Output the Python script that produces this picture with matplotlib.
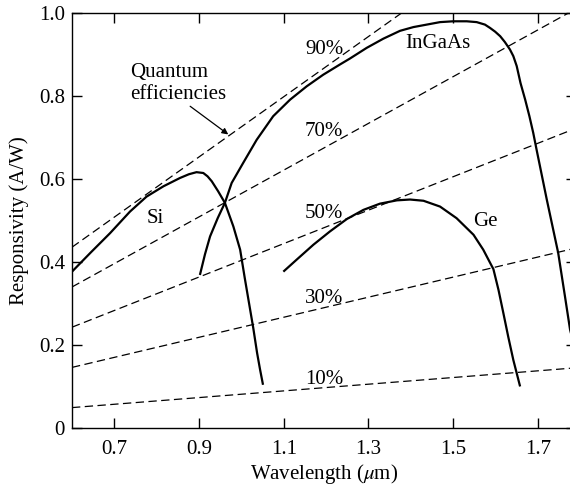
import matplotlib
matplotlib.use("Agg")
import matplotlib.pyplot as plt

# ---- data ----
si_x = [0.600, 0.645, 0.690, 0.737, 0.776, 0.816, 0.855, 0.876, 0.894, 0.910, 0.920,
        0.930, 0.945, 0.961, 0.981, 0.997, 1.008, 1.018, 1.028, 1.037, 1.044, 1.051]
si_y = [0.376, 0.423, 0.469, 0.521, 0.557, 0.582, 0.602, 0.611, 0.616, 0.614, 0.606,
        0.594, 0.570, 0.542, 0.485, 0.429, 0.360, 0.300, 0.240, 0.180, 0.140, 0.103]

ingaas_x = [0.902, 0.914, 0.926, 0.944, 0.961, 0.977, 1.004, 1.036, 1.075, 1.115,
            1.154, 1.193, 1.233, 1.256, 1.296, 1.335, 1.3745, 1.406, 1.4375, 1.469,
            1.500, 1.532, 1.5555, 1.575, 1.587, 1.599, 1.611, 1.622, 1.634, 1.642,
            1.650, 1.659, 1.670, 1.680, 1.689, 1.697, 1.705, 1.713, 1.721, 1.748,
            1.764, 1.776, 1.790]
ingaas_y = [0.368, 0.418, 0.461, 0.505, 0.542, 0.590, 0.638, 0.694, 0.751, 0.791,
            0.823, 0.851, 0.876, 0.890, 0.916, 0.938, 0.957, 0.966, 0.972, 0.978,
            0.980, 0.980, 0.978, 0.972, 0.964, 0.955, 0.944, 0.930, 0.912, 0.896,
            0.872, 0.831, 0.791, 0.751, 0.711, 0.670, 0.630, 0.590, 0.550, 0.421,
            0.316, 0.236, 0.180]

ge_x = [1.099, 1.1305, 1.170, 1.209, 1.249, 1.288, 1.327, 1.367, 1.398, 1.430,
        1.469, 1.508, 1.548, 1.571, 1.595, 1.607, 1.6185, 1.630, 1.642, 1.658]
ge_y = [0.376, 0.405, 0.441, 0.473, 0.503, 0.525, 0.540, 0.548, 0.550, 0.547,
        0.533, 0.505, 0.465, 0.429, 0.382, 0.332, 0.276, 0.219, 0.163, 0.099]

# quantum-efficiency lines: end points read at the left and right edges
qe_labels = ["90%", "70%", "50%", "30%", "10%"]
qe_x = [0.60, 1.79]
qe_y_left = [0.435, 0.339, 0.242, 0.145, 0.048]
qe_y_right = [1.299, 1.010, 0.722, 0.433, 0.144]
qe_label_y = [0.912, 0.715, 0.517, 0.312, 0.117]

x_ticks = [0.7, 0.9, 1.1, 1.3, 1.5, 1.7]
y_ticks = [0, 0.2, 0.4, 0.6, 0.8, 1.0]
y_ticklabels = ["0", "0.2", "0.4", "0.6", "0.8", "1.0"]

# ---- style ----
plt.rcParams["font.family"] = ["Liberation Serif", "DejaVu Serif"]
plt.rcParams["mathtext.fontset"] = "stix"
plt.rcParams["lines.scale_dashes"] = False
FS = 15

fig = plt.figure(figsize=(5.7, 4.86), dpi=100)
ax = fig.add_axes([72 / 570, (486 - 427.5) / 486, (576 - 72) / 570, (427.5 - 13) / 486])

for yl, yr in zip(qe_y_left, qe_y_right):
    ax.plot(qe_x, [yl, yr], color="black", lw=0.9, linestyle=(0, (6, 3.2)))

for xs, ys in [(si_x, si_y), (ingaas_x, ingaas_y), (ge_x, ge_y)]:
    ax.plot(xs, ys, color="black", lw=1.6, solid_capstyle="butt",
            solid_joinstyle="round")

for lab, ly in zip(qe_labels, qe_label_y):
    ax.text(1.195, ly, lab, fontsize=FS, ha="center", va="center")

ax.text(0.797, 0.505, "Si", fontsize=FS, ha="center", va="center")
ax.text(1.463, 0.926, "InGaAs", fontsize=FS, ha="center", va="center")
ax.text(1.575, 0.498, "Ge", fontsize=FS, ha="center", va="center")
ax.text(0.737, 0.830, "Quantum\nefficiencies", fontsize=FS, ha="left", va="center",
        linespacing=1.25)
ax.annotate("", xy=(0.969, 0.707), xytext=(0.879, 0.775),
            arrowprops=dict(arrowstyle="-|>", lw=0.9, color="black", mutation_scale=9,
                            shrinkA=0, shrinkB=0))

ax.set_xlim(qe_x[0], qe_x[1])
ax.set_ylim(0, 1.0)
ax.set_xticks(x_ticks)
ax.set_xticklabels([f"{v:.1f}" for v in x_ticks])
ax.set_yticks(y_ticks)
ax.set_yticklabels(y_ticklabels)
ax.tick_params(direction="in", length=7, width=1, top=True, right=True,
               labelsize=FS)
ax.tick_params(axis="x", pad=9)
ax.tick_params(axis="y", pad=5)
for s in ax.spines.values():
    s.set_linewidth(1.0)

ax.set_xlabel(r"Wavelength ($\mu$m)", fontsize=FS, labelpad=2)
ax.set_ylabel("Responsivity (A/W)", fontsize=FS, labelpad=7)

fig.savefig("out.png", dpi=100)
